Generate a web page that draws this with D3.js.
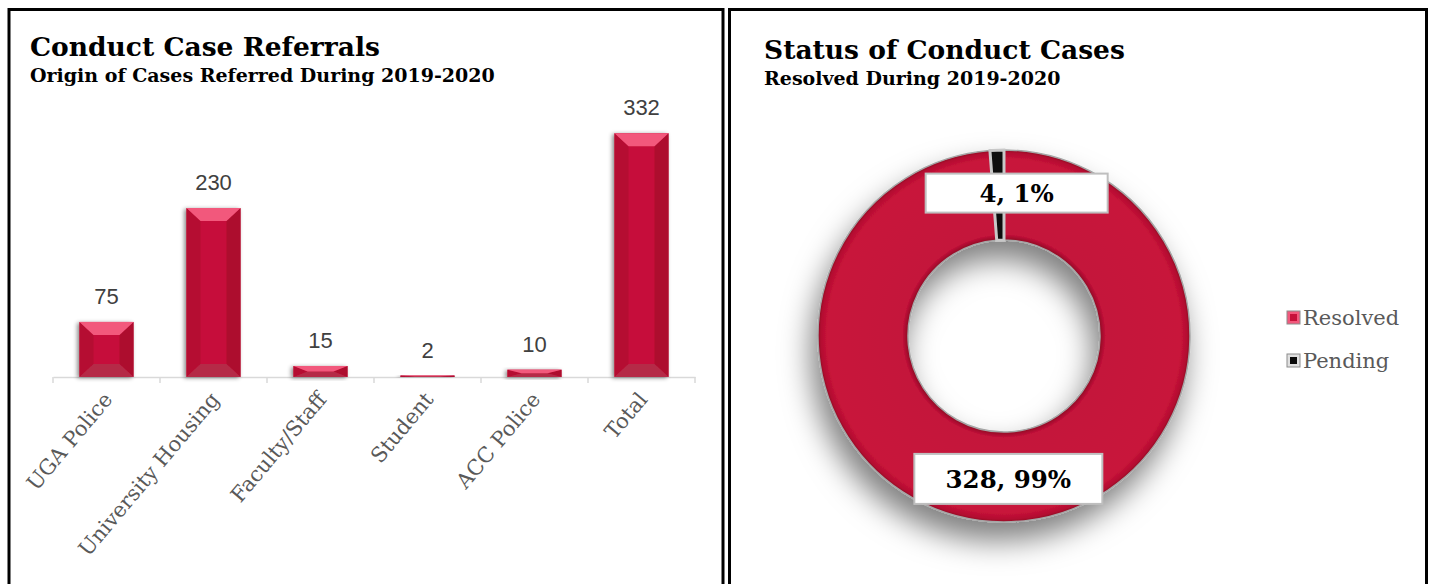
<!DOCTYPE html>
<html>
<head>
<meta charset="utf-8">
<script src="https://cdn.jsdelivr.net/npm/d3@7"></script>
<style>
  body { margin: 0; background: #fff; }
  svg { display: block; }
</style>
</head>
<body>
<svg id="chart" width="1434" height="584"></svg>
<script>
// bar chart data
const categories = ["UGA Police", "University Housing", "Faculty/Staff", "Student", "ACC Police", "Total"];
const referrals = [75, 230, 15, 2, 10, 332];

// donut data
const statusLabels = ["Resolved", "Pending"];
const statusValues = [328, 4];
const statusPct = ["99%", "1%"];

const svg = d3.select("#chart");
const serif = "DejaVu Serif, Georgia, serif";

const defs = svg.append("defs");
defs.append("filter").attr("id", "barShadow")
    .attr("x", "-30%").attr("y", "-30%").attr("width", "160%").attr("height", "160%")
  .append("feDropShadow")
    .attr("dx", -2).attr("dy", 1).attr("stdDeviation", 2)
    .attr("flood-color", "#000").attr("flood-opacity", 0.45);
defs.append("filter").attr("id", "donutShadow")
    .attr("x", "-40%").attr("y", "-40%").attr("width", "180%").attr("height", "190%")
  .append("feDropShadow")
    .attr("dx", -6).attr("dy", 18).attr("stdDeviation", 15)
    .attr("flood-color", "#000").attr("flood-opacity", 0.5);

// panel borders
svg.append("rect").attr("x", 9).attr("y", 9.5).attr("width", 714).attr("height", 600)
  .attr("fill", "none").attr("stroke", "#000").attr("stroke-width", 3);
svg.append("rect").attr("x", 729.5).attr("y", 9.5).attr("width", 697).attr("height", 600)
  .attr("fill", "none").attr("stroke", "#000").attr("stroke-width", 3);

// ---------- left: bar chart ----------
svg.append("text").attr("x", 30).attr("y", 56)
  .style("font-family", serif).style("font-weight", "bold").style("font-size", "26.5px")
  .text("Conduct Case Referrals");
svg.append("text").attr("x", 30).attr("y", 82)
  .style("font-family", serif).style("font-weight", "bold").style("font-size", "19px")
  .text("Origin of Cases Referred During 2019-2020");

const x = d3.scaleBand().domain(categories).range([53, 695]).paddingInner(0).paddingOuter(0);
const y = d3.scaleLinear().domain([0, 350]).range([377, 120]);

const axis = svg.append("g").attr("transform", "translate(0,377)")
  .call(d3.axisBottom(x).tickSize(0).tickFormat(""));
axis.select(".domain").attr("stroke", "#d9d9d9").attr("stroke-width", 1.5);
// tick marks between categories
const edges = categories.map(c => x(c)).concat([x.range()[1]]);
axis.selectAll(".sep").data(edges).enter().append("line")
  .attr("x1", d => d).attr("x2", d => d).attr("y1", 0).attr("y2", 6)
  .attr("stroke", "#d9d9d9").attr("stroke-width", 1.5);

const bw = x.bandwidth() * 0.505;
const bars = svg.append("g").selectAll("g").data(categories).enter().append("g")
  .attr("filter", "url(#barShadow)");

bars.each(function(c, i) {
  const g = d3.select(this);
  const x0 = x(c) + (x.bandwidth() - bw) / 2, x1 = x0 + bw;
  const y0 = y(referrals[i]), y1 = y(0);
  const h = y1 - y0;
  const b = Math.min(13, h / 2), bx = Math.min(14, bw / 2);
  // center
  g.append("rect").attr("x", x0).attr("y", y0).attr("width", bw).attr("height", h).attr("fill", "#c6113a");
  // left side
  g.append("polygon").attr("points", [[x0, y0], [x0 + bx, y0 + b], [x0 + bx, y1 - b], [x0, y1]].join(" "))
    .attr("fill", "#b50b30");
  // right side
  g.append("polygon").attr("points", [[x1, y0], [x1 - bx, y0 + b], [x1 - bx, y1 - b], [x1, y1]].join(" "))
    .attr("fill", "#ad0a2d");
  // bottom face
  g.append("polygon").attr("points", [[x0, y1], [x0 + bx, y1 - b], [x1 - bx, y1 - b], [x1, y1]].join(" "))
    .attr("fill", "#b52a47");
  // top face
  g.append("polygon").attr("points", [[x0, y0], [x0 + bx, y0 + b], [x1 - bx, y0 + b], [x1, y0]].join(" "))
    .attr("fill", "#f2587c");
});

svg.append("g").selectAll("text").data(categories).enter().append("text")
  .attr("x", d => x(d) + x.bandwidth() / 2)
  .attr("y", (d, i) => y(referrals[i]) - 18)
  .attr("text-anchor", "middle")
  .style("font-family", "Liberation Sans, Arial, sans-serif").style("font-size", "22px")
  .attr("fill", "#404040")
  .text((d, i) => referrals[i]);

svg.append("g").selectAll("text").data(categories).enter().append("text")
  .attr("transform", d => `translate(${x(d) + x.bandwidth() / 2 + 7},${400}) rotate(-50)`)
  .attr("text-anchor", "end")
  .style("font-family", serif).style("font-size", "21px")
  .attr("fill", "#595959")
  .text(d => d);

// ---------- right: donut ----------
svg.append("text").attr("x", 764).attr("y", 59)
  .style("font-family", serif).style("font-weight", "bold").style("font-size", "26.5px")
  .text("Status of Conduct Cases");
svg.append("text").attr("x", 764).attr("y", 85)
  .style("font-family", serif).style("font-weight", "bold").style("font-size", "19px")
  .text("Resolved During 2019-2020");

const cx = 1004, cy = 336, rOut = 186, rIn = 96;
const grad = defs.append("radialGradient").attr("id", "ringRed")
  .attr("gradientUnits", "userSpaceOnUse").attr("cx", 0).attr("cy", 0).attr("r", rOut);
[[rIn / rOut, "#8f0a24"], [rIn / rOut + 0.03, "#c4123a"], [0.95, "#c8133a"], [0.985, "#b30e30"], [1, "#8f0a24"]]
  .forEach(s => grad.append("stop").attr("offset", s[0]).attr("stop-color", s[1]));

const pie = d3.pie().sort(null).value(d => d)(statusValues);
const arc = d3.arc().innerRadius(rIn).outerRadius(rOut);
const fills = ["url(#ringRed)", "#0a0a0a"];

const donut = svg.append("g").attr("transform", `translate(${cx},${cy})`);
donut.append("g").attr("filter", "url(#donutShadow)")
  .selectAll("path").data(pie).enter().append("path")
  .attr("d", arc).attr("fill", (d, i) => fills[i])
  .attr("stroke", (d, i) => i === 1 ? "#c8c8c8" : "#a6a6a6")
  .attr("stroke-width", (d, i) => i === 1 ? 3 : 1.5);

// data label boxes
const labelBox = [{w: 188, h: 50, dx: -1, dy: 2}, {w: 182, h: 39, dx: 18, dy: -2}];
const lab = donut.selectAll(".lab").data(pie).enter().append("g")
  .attr("transform", (d, i) => {
    const c = arc.centroid(d);
    return `translate(${c[0] + labelBox[i].dx},${c[1] + labelBox[i].dy})`;
  });
lab.append("rect")
  .attr("x", (d, i) => -labelBox[i].w / 2).attr("y", (d, i) => -labelBox[i].h / 2)
  .attr("width", (d, i) => labelBox[i].w).attr("height", (d, i) => labelBox[i].h)
  .attr("fill", "#fff").attr("stroke", "#bfbfbf").attr("stroke-width", 2);
lab.append("text").attr("text-anchor", "middle").attr("dy", "0.36em")
  .style("font-family", serif).style("font-weight", "bold").style("font-size", "24.5px")
  .attr("fill", "#000")
  .text((d, i) => `${statusValues[i]}, ${statusPct[i]}`);

// legend
const legendColors = [["#f2587c", "#c6113a"], ["#e0e0e0", "#0a0a0a"]];
const leg = svg.append("g").selectAll("g").data(statusLabels).enter().append("g")
  .attr("transform", (d, i) => `translate(1287,${311 + i * 43})`);
leg.append("rect").attr("width", 13).attr("height", 13).attr("fill", (d, i) => legendColors[i][0])
  .attr("stroke", "#8c8c8c").attr("stroke-width", 1);
leg.append("rect").attr("x", 3).attr("y", 3).attr("width", 7).attr("height", 7)
  .attr("fill", (d, i) => legendColors[i][1]);
leg.append("text").attr("x", 16).attr("y", 14)
  .style("font-family", serif).style("font-size", "21px")
  .attr("fill", "#595959")
  .text(d => d);
</script>
</body>
</html>
